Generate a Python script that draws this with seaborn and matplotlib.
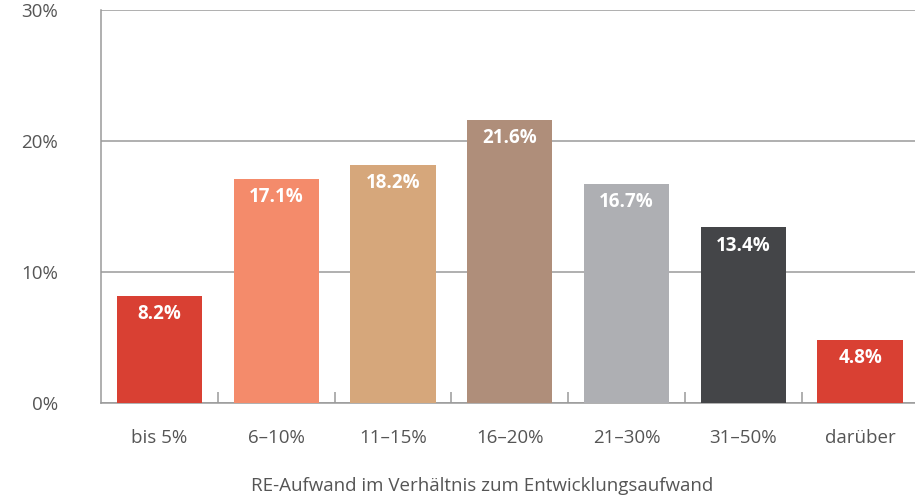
import matplotlib
matplotlib.use("Agg")
import matplotlib.pyplot as plt
import seaborn as sns
import pandas as pd
from matplotlib.ticker import FixedLocator, FuncFormatter

categories = ["bis 5%", "6–10%", "11–15%", "16–20%", "21–30%", "31–50%", "darüber"]
shares = [8.2, 17.1, 18.2, 21.6, 16.7, 13.4, 4.8]
bar_colors = ["#D94033", "#F48B6B", "#D6A77B", "#AF8E7A", "#AEAFB3", "#444548", "#D94033"]
y_ticks = [0, 10, 20, 30]
x_title = "RE-Aufwand im Verhältnis zum Entwicklungsaufwand"

df = pd.DataFrame({"Kategorie": categories, "Anteil": shares})

sns.set_theme(style="white")
plt.rcParams["font.family"] = ["Open Sans", "DejaVu Sans"]

text_grey = "#555555"
line_grey = "#9A9A9A"

fig = plt.figure(figsize=(9.15, 4.98), dpi=100)
ax = fig.add_axes([101 / 915, 95 / 498, 814 / 915, 393 / 498])

sns.barplot(data=df, x="Kategorie", y="Anteil", hue="Kategorie",
            palette=bar_colors, width=0.73, legend=False, ax=ax,
            saturation=1, linewidth=0, zorder=3)

ax.set_ylim(0, 30)
ax.set_xlim(-0.5, 6.47)
ax.yaxis.set_major_locator(FixedLocator(y_ticks))
ax.yaxis.set_major_formatter(FuncFormatter(lambda v, _: f"{v:.0f}%"))
ax.grid(axis="y", color=line_grey, linewidth=1.1, zorder=0)
ax.grid(axis="x", visible=False)

for side in ["top", "right"]:
    ax.spines[side].set_visible(False)
for side in ["left", "bottom"]:
    ax.spines[side].set_color(line_grey)
    ax.spines[side].set_linewidth(1.1)

ax.tick_params(axis="y", length=0, pad=31, labelsize=13.5, labelcolor=text_grey)
ax.tick_params(axis="x", which="major", length=0, pad=19, labelsize=13.5, labelcolor=text_grey)
for lbl in ax.get_yticklabels():
    lbl.set_horizontalalignment("right")

# separators between the categories along the baseline
ax.xaxis.set_minor_locator(FixedLocator([i + 0.5 for i in range(len(categories) - 1)]))
ax.tick_params(axis="x", which="minor", direction="in", length=8, width=1.1,
               color=line_grey, bottom=True)

ax.set_xlabel(x_title, fontsize=13.5, color=text_grey, va="center")
ax.xaxis.set_label_coords(0.468, -0.211)
ax.set_ylabel("")

for i, v in enumerate(shares):
    ax.annotate(f"{v:.1f}%", xy=(i, v), xytext=(0, -13), textcoords="offset points",
                ha="center", va="center", color="white", fontsize=13.5,
                fontweight="bold", zorder=4)

fig.savefig("out.png", dpi=100)
